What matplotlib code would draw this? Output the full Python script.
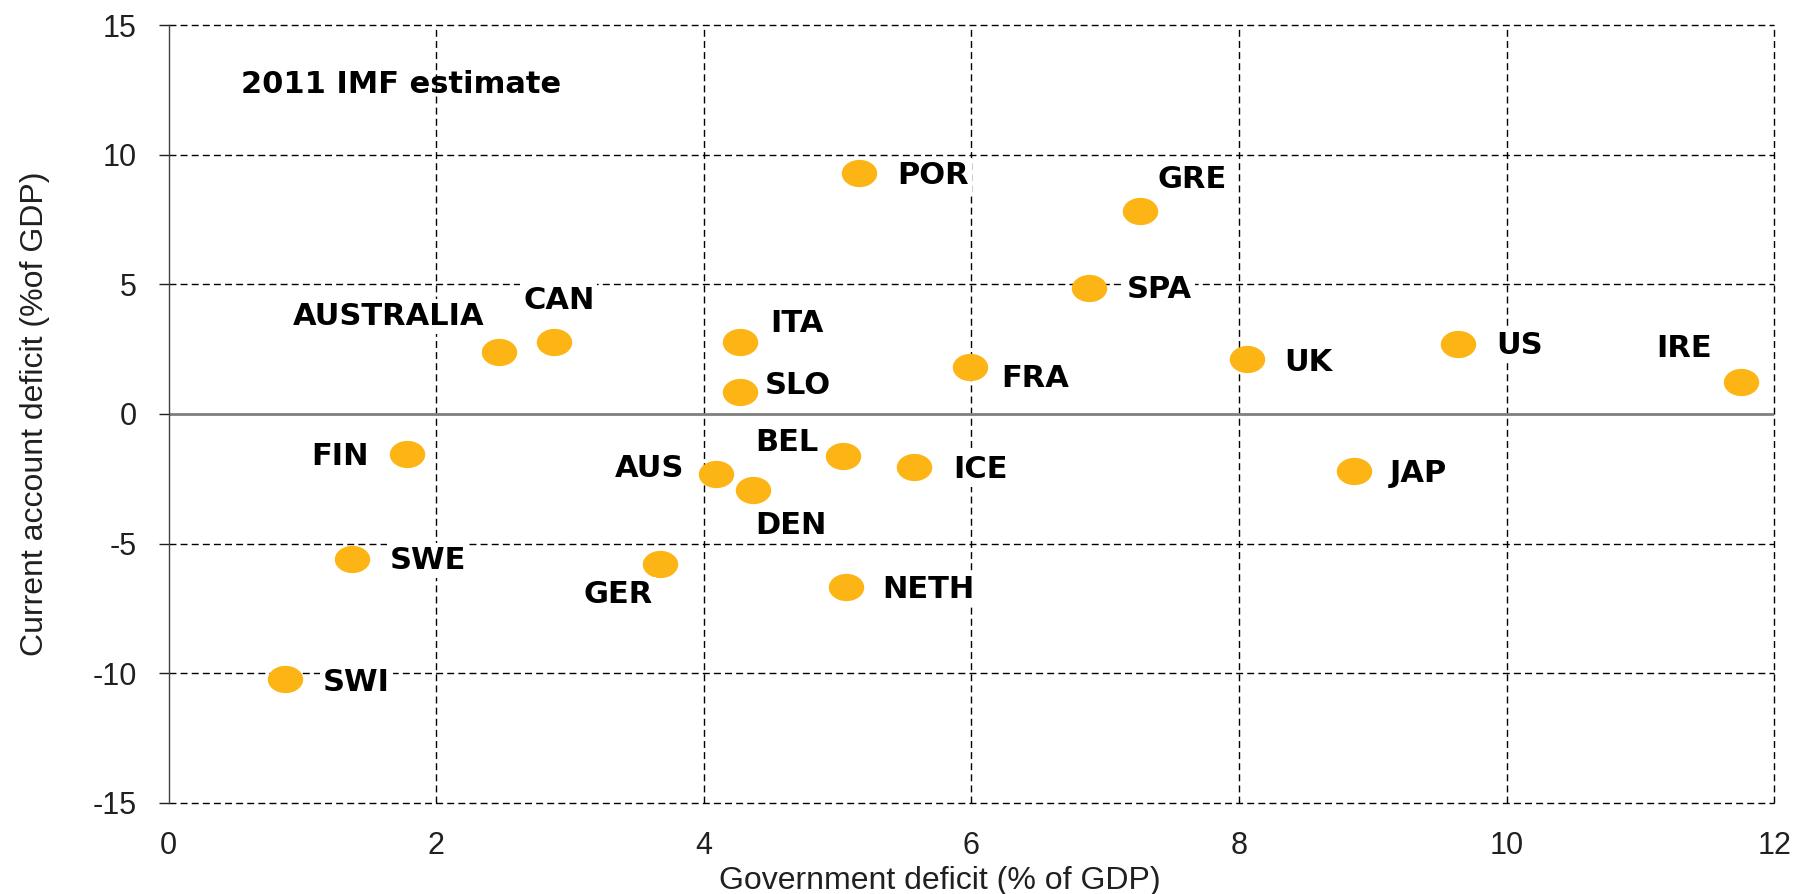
import numpy as np
import matplotlib
matplotlib.use("Agg")
import matplotlib.pyplot as plt
from matplotlib.path import Path

# Government deficit vs current account deficit, 2011 IMF estimate (% of GDP)
countries = ["AUSTRALIA", "CAN", "POR", "GRE", "SPA", "ITA", "SLO", "FRA", "UK", "US", "IRE",
             "FIN", "AUS", "DEN", "BEL", "ICE", "JAP", "SWE", "GER", "NETH", "SWI"]
gov_deficit = [2.47, 2.88, 5.16, 7.26, 6.88, 4.27, 4.27, 5.99, 8.06, 9.64, 11.75,
               1.78, 4.09, 4.37, 5.04, 5.57, 8.86, 1.37, 3.67, 5.06, 0.87]
ca_deficit = [2.39, 2.79, 9.29, 7.83, 4.87, 2.79, 0.84, 1.81, 2.12, 2.70, 1.24,
              -1.55, -2.30, -2.92, -1.64, -2.04, -2.21, -5.58, -5.80, -6.68, -10.22]

x_ticks = [0, 2, 4, 6, 8, 10, 12]
y_ticks = [-15, -10, -5, 0, 5, 10, 15]

# label placement: (dx, dy) in screen px of the reference, horizontal alignment
label_offsets = {
    "AUSTRALIA": (-13, 31, "right"), "CAN": (-27, 36, "left"), "POR": (33, -2, "left"),
    "GRE": (15, 27, "left"), "SPA": (33, -2, "left"), "ITA": (26, 16, "left"),
    "SLO": (22, 6, "left"), "FRA": (27, -10, "left"), "UK": (32, -3, "left"),
    "US": (33, -1, "left"), "IRE": (-25, 29, "right"), "FIN": (-33, -2, "right"),
    "AUS": (-28, 4, "right"), "DEN": (2, -31, "left"), "BEL": (-21, 12, "right"),
    "ICE": (34, -2, "left"), "JAP": (31, -2, "left"), "SWE": (33, -2, "left"),
    "GER": (-6, -26, "right"), "NETH": (32, -2, "left"), "SWI": (33, -3, "left"),
}
px_to_pt = 1.1467 * 0.72

dot_color = "#FDB515"
grid_dash = (0, (5, 3))

# wide ellipse marker
theta = np.linspace(0, 2 * np.pi, 80)
ellipse = Path(np.column_stack([1.3 * np.cos(theta), np.sin(theta)]), closed=True)

fig = plt.figure(figsize=(17.98, 8.94), dpi=100)
ax = fig.add_axes([0.0938, 0.102, 0.893, 0.870])

ax.set_xlim(0, 12)
ax.set_ylim(-15, 15)

# dashed grid
for yv in y_ticks:
    if yv != 0:
        ax.axhline(yv, color="black", lw=1, linestyle=grid_dash, zorder=1, clip_on=False)
for xv in x_ticks[1:]:
    ax.axvline(xv, color="black", lw=1, linestyle=grid_dash, zorder=1, clip_on=False)
ax.axhline(0, color="#7f7f7f", lw=2, zorder=1.5)

ax.scatter(gov_deficit, ca_deficit, s=25.5 ** 2, marker=ellipse, color=dot_color,
           linewidths=0, zorder=3)

for name, gx, cy in zip(countries, gov_deficit, ca_deficit):
    dx, dy, ha = label_offsets[name]
    ax.annotate(name, (gx, cy), xytext=(dx * px_to_pt, dy * px_to_pt),
                textcoords="offset points", ha=ha, va="center",
                fontsize=22, fontweight="bold", family="DejaVu Sans", color="black",
                bbox=dict(boxstyle="square,pad=0.1", fc="white", ec="none"), zorder=4)

ax.text(0.54, 12.7, "2011 IMF estimate", ha="left", va="center", fontsize=22,
        fontweight="bold", family="DejaVu Sans", zorder=4)

for side in ["top", "right", "bottom"]:
    ax.spines[side].set_visible(False)
ax.spines["left"].set_color("#404040")
ax.spines["left"].set_linewidth(1)

ax.set_xticks(x_ticks)
ax.set_yticks(y_ticks)
ax.set_xticklabels([str(v) for v in x_ticks], family="Liberation Sans", fontsize=22)
ax.set_yticklabels([str(v) for v in y_ticks], family="Liberation Sans", fontsize=22)
ax.tick_params(axis="x", length=0, pad=20, colors="#202020")
ax.tick_params(axis="y", length=7, width=1, pad=16, colors="#202020")

ax.set_xlabel("Government deficit (% of GDP)", family="Liberation Sans", fontsize=23,
              color="#202020", va="center")
ax.set_ylabel("Current account deficit (%of GDP)", family="Liberation Sans", fontsize=23,
              color="#202020")
ax.xaxis.set_label_coords(0.48, -0.1)
ax.yaxis.set_label_coords(-0.074, 0.5)

fig.savefig("out.png", dpi=100)
